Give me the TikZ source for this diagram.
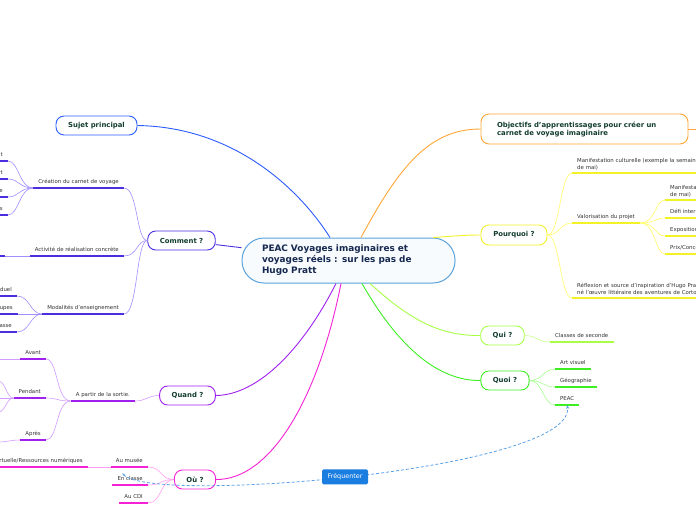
\documentclass[tikz,border=0pt]{standalone}
\usepackage{fontspec}
\setmainfont{DejaVu Sans}
\usetikzlibrary{arrows.meta}

\definecolor{rootline}{HTML}{5BA3DC}
\definecolor{rootfill}{HTML}{F7FBFE}
\definecolor{roottext}{HTML}{16284F}
\definecolor{topictext}{HTML}{123D2E}
\definecolor{leaftext}{HTML}{333333}
\definecolor{csujet}{HTML}{2B5CFF}
\definecolor{cobj}{HTML}{FFA636}
\definecolor{cpq}{HTML}{F2F226}
\definecolor{cpqthin}{HTML}{FFFF66}
\definecolor{cqui}{HTML}{A8FF45}
\definecolor{cquithin}{HTML}{C8FF8C}
\definecolor{cquoi}{HTML}{3CEE22}
\definecolor{cquoithin}{HTML}{A6FF8C}
\definecolor{ccomm}{HTML}{4A2EE0}
\definecolor{ccommthin}{HTML}{9F8FFF}
\definecolor{cquand}{HTML}{A020F0}
\definecolor{cquandthin}{HTML}{D29BFF}
\definecolor{cou}{HTML}{F522D5}
\definecolor{couthin}{HTML}{FF9CF0}
\definecolor{crel}{HTML}{5AA0E6}
\definecolor{cfreq}{HTML}{1A7DE0}

\tikzset{
  root/.style={draw=rootline, fill=rootfill, line width=1pt, rounded corners=22pt,
    minimum height=45pt, text width=173pt, inner xsep=20pt, align=left,
    text=roottext, font=\bfseries\fontsize{8.9}{11}\selectfont},
  topic/.style={draw=#1, line width=0.9pt, rounded corners=8pt, fill=white,
    text=topictext, font=\bfseries\fontsize{6.9}{8}\selectfont,
    minimum height=19pt, inner xsep=12pt},
  link/.style={draw=#1, line width=0.9pt},
  thin/.style={draw=#1, line width=0.6pt},
  leaf/.style={font=\fontsize{5.4}{7}\selectfont, text=leaftext, inner xsep=5pt,
    inner ysep=3pt, text height=3.9pt, text depth=1.5pt},
  multi/.style={text height=, text depth=, align=left},
  ul/.style={draw=#1, line width=1.8pt},
  rel/.style={draw=crel, line width=0.8pt, dash pattern=on 3pt off 2pt},
  freq/.style={fill=cfreq, text=white, rounded corners=1.5pt,
    font=\fontsize{6.4}{7}\selectfont, minimum width=46pt, minimum height=15pt}
}

\begin{document}
\begin{tikzpicture}[x=1pt,y=-1pt]
  \useasboundingbox (0,0) rectangle (696,520);

  % main topics
  \node[root] (peac) at (348.5,260.5) {PEAC Voyages imaginaires et\\voyages réels : sur les pas de\\Hugo Pratt};
  \node[topic=csujet, minimum width=81pt] (sujet) at (96.5,125.5) {Sujet principal};
  \node[topic=cobj, minimum height=30pt, text width=175pt, align=left, inner xsep=16pt] (objectifs) at (584.5,129) {Objectifs d'apprentissages pour créer un\\carnet de voyage imaginaire};
  \node[topic=cpq, minimum width=66pt, minimum height=20pt] (pourquoi) at (514,235) {Pourquoi ?};
  \node[topic=cqui, minimum width=43pt] (qui) at (502.5,335.5) {Qui ?};
  \node[topic=cquoi, minimum width=48pt] (quoi) at (505,380.5) {Quoi ?};
  \node[topic=ccomm, minimum width=67pt] (comment) at (181.5,240.5) {Comment ?};
  \node[topic=cquand, minimum width=55pt] (quand) at (187.5,395.5) {Quand ?};
  \node[topic=cou, minimum width=40pt] (ou) at (195,479.5) {Où ?};

  \draw[link=csujet] ([xshift=-18.5pt]peac.north) .. controls (300,190) and (235,127) .. (sujet.east);
  \draw[link=cobj] ([xshift=12.5pt]peac.north) .. controls (400,165) and (430,129) .. (objectifs.west);
  \draw[link=cobj] (objectifs.east) -- ++(12,0);
  \draw[link=cpq] ([xshift=84.5pt]peac.north) .. controls (455,236) and (465,235) .. (pourquoi.west);
  \draw[link=cqui] ([xshift=21.5pt]peac.south) .. controls (410,320) and (440,336) .. (qui.west);
  \draw[link=cquoi] ([xshift=13.5pt]peac.south) .. controls (400,350) and (440,381) .. (quoi.west);
  \draw[link=cquand] ([xshift=-12.5pt]peac.south) .. controls (305,345) and (260,395) .. (quand.east);
  \draw[link=cou] ([xshift=-7.5pt]peac.south) .. controls (318,400) and (270,480) .. (ou.east);
  \draw[link=ccomm] (comment) -- (peac);

  % Comment ?
  \node[leaf, anchor=south east] (carnet) at (124,188) {Création du carnet de voyage};
  \node[leaf, anchor=south east] (activite) at (124,256) {Activité de réalisation concrète};
  \node[leaf, anchor=south east] (modalites) at (124,314) {Modalités d'enseignement};
  \foreach \n in {carnet,activite,modalites}
    \draw[thin=ccommthin] (comment.west) .. controls (136,240.5) and (138,0 |- \n.south east) .. (\n.south east);
  \node[leaf, anchor=south east, text width=20pt, align=right] (carnet1) at (8,161) {t};
  \node[leaf, anchor=south east, text width=20pt, align=right] (carnet2) at (8,179) {rt};
  \node[leaf, anchor=south east, text width=20pt, align=right] (carnet3) at (8,197) {e};
  \node[leaf, anchor=south east, text width=20pt, align=right] (carnet4) at (8,215) {s};
  \foreach \n in {carnet1,carnet2,carnet3,carnet4}
    \draw[thin=ccommthin] (carnet.south west) .. controls (19,188) and (19,0 |- \n.south east) .. (\n.south east);
  \node[leaf, anchor=south east, text width=20pt] (activite1) at (5,256) {};
  \draw[thin=ccommthin] (activite.south west) -- (activite1.south east);
  \node[leaf, anchor=south east, text width=20pt, align=right] (modal1) at (17,296) {iduel};
  \node[leaf, anchor=south east, text width=20pt, align=right] (modal2) at (18,314) {upes};
  \node[leaf, anchor=south east, text width=20pt, align=right] (modal3) at (17,332) {lasse};
  \foreach \n in {modal1,modal2,modal3}
    \draw[thin=ccommthin] (modalites.south west) .. controls (30,314) and (30,0 |- \n.south east) .. (\n.south east);
  \foreach \n in {carnet,activite,modalites,carnet1,carnet2,carnet3,carnet4,activite1,modal1,modal2,modal3}
    \draw[ul=ccomm] (\n.south west) -- (\n.south east);

  % Quand ?
  \node[leaf, anchor=south east] (sortie) at (135,401) {A partir de la sortie.};
  \draw[thin=cquandthin] (quand.west) .. controls (148,395.5) and (146,401) .. (sortie.south east);
  \node[leaf, anchor=south east] (avant) at (46,359) {Avant};
  \node[leaf, anchor=south east] (pendant) at (46,398) {Pendant};
  \node[leaf, anchor=south east] (apres) at (46,440) {Après};
  \foreach \n in {avant,pendant,apres}
    \draw[thin=cquandthin] (sortie.south west) .. controls (56,401) and (58,0 |- \n.south east) .. (\n.south east);
  \coordinate (avant1) at (-2,359);
  \coordinate (pendant1) at (-2,381);
  \coordinate (pendant2) at (-2,398);
  \coordinate (pendant3) at (-2,412);
  \coordinate (apres1) at (-2,442);
  \draw[thin=cquandthin] (avant.south west) -- (avant1);
  \draw[thin=cquandthin] (pendant.south west) .. controls (6,398) and (6,381) .. (pendant1);
  \draw[thin=cquandthin] (pendant.south west) -- (pendant2);
  \draw[thin=cquandthin] (pendant.south west) .. controls (6,398) and (6,412) .. (pendant3);
  \draw[thin=cquandthin] (apres.south west) .. controls (10,440) and (8,442) .. (apres1);
  \foreach \n in {sortie,avant,pendant,apres}
    \draw[ul=cquand] (\n.south west) -- (\n.south east);

  % Ou ?
  \node[leaf, anchor=south east] (musee) at (148,467) {Au musée};
  \node[leaf, anchor=south east] (classe) at (148,485) {En classe};
  \node[leaf, anchor=south east] (cdi) at (148,503) {Au CDI};
  \foreach \n in {musee,classe,cdi}
    \draw[thin=couthin] (ou.west) .. controls (160,479.5) and (162,0 |- \n.south east) .. (\n.south east);
  \node[leaf, anchor=south east] (virtuel) at (88,467) {Visite virtuelle/Ressources numériques};
  \draw[thin=couthin] (musee.south west) -- (virtuel.south east);
  \foreach \n in {musee,classe,cdi,virtuel}
    \draw[ul=cou] (\n.south west) -- (\n.south east);

  % Pourquoi ?
  \node[leaf, multi, anchor=south west, text width=190pt] (manif) at (572,173) {Manifestation culturelle (exemple la semaine\\de mai)};
  \node[leaf, anchor=south west] (valor) at (572,223) {Valorisation du projet};
  \node[leaf, multi, anchor=south west, text width=190pt] (reflex) at (572,298) {Réflexion et source d'inspiration d'Hugo Pratt\\né l'œuvre littéraire des aventures de Corto};
  \foreach \n in {manif,valor,reflex}
    \draw[thin=cpqthin] (pourquoi.east) .. controls (560,235) and (560,0 |- \n.south west) .. (\n.south west);
  \node[leaf, multi, anchor=south west, text width=60pt] (valor1) at (665,200) {Manifestation\\de mai)};
  \node[leaf, anchor=south west, text width=60pt, align=left] (valor2) at (665,218) {Défi inter};
  \node[leaf, anchor=south west, text width=60pt, align=left] (valor3) at (665,236) {Exposition};
  \node[leaf, anchor=south west, text width=60pt, align=left] (valor4) at (665,254) {Prix/Concours};
  \foreach \n in {valor1,valor2,valor3,valor4}
    \draw[thin=cpqthin] (valor.south east) .. controls (656,223) and (655,0 |- \n.south west) .. (\n.south west);
  \foreach \n in {manif,valor,reflex,valor1,valor2,valor3,valor4}
    \draw[ul=cpq] (\n.south west) -- (\n.south east);

  % Qui ? / Quoi ?
  \node[leaf, anchor=south west] (classes) at (550,342) {Classes de seconde};
  \draw[thin=cquithin] (qui.east) .. controls (537,335.5) and (537,342) .. (classes.south west);
  \draw[ul=cqui] (classes.south west) -- (classes.south east);
  \node[leaf, anchor=south west] (art) at (555,369) {Art visuel};
  \node[leaf, anchor=south west] (geo) at (555,387) {Géographie};
  \node[leaf, anchor=south west] (peacq) at (555,405) {PEAC};
  \foreach \n in {art,geo,peacq}{
    \draw[thin=cquoithin] (quoi.east) .. controls (543,380.5) and (543,0 |- \n.south west) .. (\n.south west);
    \draw[ul=cquoi] (\n.south west) -- (\n.south east);
  }

  % relation
  \draw[rel, {Stealth[length=3pt]}-{Stealth[length=4pt]}] ([xshift=10pt]classe.north west) .. controls (150,505) and (575,470) .. (peacq.south)
    node[freq, pos=0.48] (frequenter) {Fréquenter};
\end{tikzpicture}
\end{document}
